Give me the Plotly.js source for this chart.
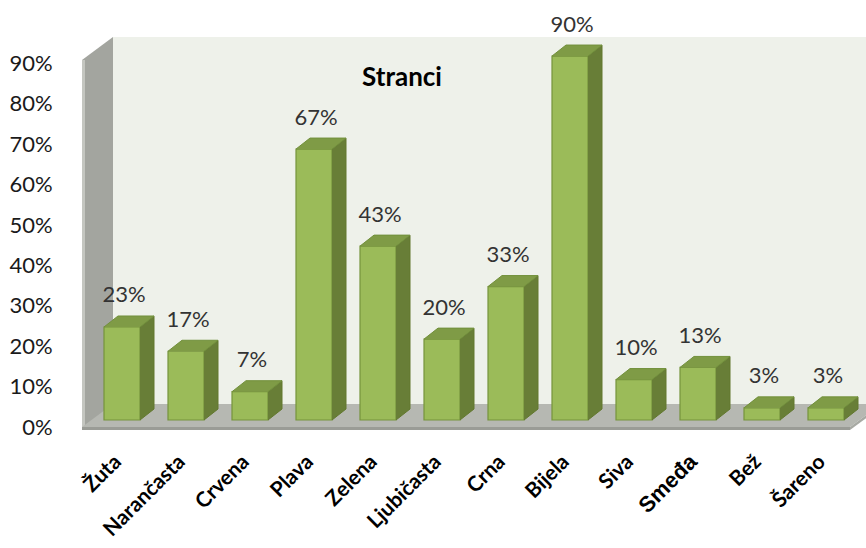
<!DOCTYPE html>
<html>
<head>
<meta charset="utf-8">
<script src="https://cdn.plot.ly/plotly-3.0.1.min.js"></script>
<style>html,body{margin:0;padding:0;background:#fff;}#chart{width:866px;height:548px;}</style>
</head>
<body>
<div id="chart"></div>
<script>
// ---- data ----
const categories = ['Žuta','Narančasta','Crvena','Plava','Zelena','Ljubičasta','Crna','Bijela','Siva','Smeđa','Bež','Šareno'];
const values = [23, 17, 7, 67, 43, 20, 33, 90, 10, 13, 3, 3];
const yTicks = [0, 10, 20, 30, 40, 50, 60, 70, 80, 90];
const yTickText = yTicks.map(t => t + '%');
const chartTitle = 'Stranci';

// ---- layout geometry ----
const W = 866, H = 548;
const M = {l: 82, r: 0, t: 10, b: 116};
const XR = [-0.625, 11.625];
const plotW = W - M.l - M.r, plotH = H - M.t - M.b;
const pxX = plotW / (XR[1] - XR[0]);
const pxY = 4.044;
const zeroFromBottom = 12;
const YR = [-zeroFromBottom / pxY, (plotH - zeroFromBottom) / pxY];
const dxu = p => p / pxX;
const dyu = p => p / pxY;

const barW = 36 / pxX;
const BDX = dxu(14), BDY = dyu(11);      // bar depth
const FY = -dyu(7);                        // front plane floor level
const BX = dxu(31), BY = dyu(23);          // wall depth
const x0 = XR[0];
const xFloorEnd = dxu(850 - M.l) + XR[0];
const wallTop = FY + yTicks[yTicks.length - 1] + dyu(3);
const slab = dyu(3);

const xs = categories.map((c, i) => i);

function poly(pts) {
  return 'M' + pts.map(p => p[0] + ',' + p[1]).join('L') + 'Z';
}

const shapes = [
  {type:'path', layer:'below', xref:'x', yref:'y', line:{width:0}, fillcolor:'#eef1ea',
   path: poly([[x0+BX, FY+BY],[x0+BX, wallTop+BY],[XR[1]+1, wallTop+BY],[XR[1]+1, FY+BY]])},
  {type:'path', layer:'below', xref:'x', yref:'y', line:{width:0}, fillcolor:'#a3a59f',
   path: poly([[x0, FY-slab],[x0, wallTop],[x0+BX, wallTop+BY],[x0+BX, FY+BY]])},
  {type:'path', layer:'below', xref:'x', yref:'y', line:{width:0}, fillcolor:'#c4c6c0',
   path: poly([[x0, FY-slab],[x0, wallTop],[x0+dxu(3), wallTop],[x0+dxu(3), FY-slab]])},
  {type:'path', layer:'below', xref:'x', yref:'y', line:{width:0}, fillcolor:'#b6b8b2',
   path: poly([[x0, FY],[x0+BX, FY+BY],[xFloorEnd+BX, FY+BY],[xFloorEnd, FY]])},
  {type:'path', layer:'below', xref:'x', yref:'y', line:{width:0}, fillcolor:'#9a9c96',
   path: poly([[x0, FY],[xFloorEnd, FY],[xFloorEnd, FY-slab],[x0, FY-slab]])},
  {type:'path', layer:'below', xref:'x', yref:'y', line:{width:0}, fillcolor:'#a8aaa4',
   path: poly([[xFloorEnd, FY],[xFloorEnd+BX, FY+BY],[xFloorEnd+BX, FY+BY-slab],[xFloorEnd, FY-slab]])}
];

// side and top faces built from the values
const sideX = [], sideY = [], topX = [], topY = [];
values.forEach((v, i) => {
  const r = i + barW/2, l = i - barW/2;
  sideX.push(r, r+BDX, r+BDX, r, null);
  sideY.push(0, BDY, v+BDY, v, null);
  topX.push(l, l+BDX, r+BDX, r, null);
  topY.push(v, v+BDY, v+BDY, v, null);
});

const traces = [
  {type:'scatter', x: sideX, y: sideY, mode:'lines', fill:'toself', fillcolor:'#687e37',
   line:{color:'#62782f', width:1}, hoverinfo:'skip', showlegend:false},
  {type:'scatter', x: topX, y: topY, mode:'lines', fill:'toself', fillcolor:'#7f9b46',
   line:{color:'#72903c', width:1}, hoverinfo:'skip', showlegend:false},
  {type:'bar', x: xs, y: values, width: barW,
   marker:{color:'#9bbb59', line:{color:'#76933c', width:1.2}},
   hovertemplate:'%{y}%<extra></extra>', showlegend:false},
  {type:'scatter', x: xs.map(x => x + dxu(2)), y: values.map(v => v + BDY + dyu(19)),
   mode:'text', text: values.map(v => v + '%'), textposition:'middle center',
   textfont:{family:'Lato, sans-serif', size:22, color:'#333333'},
   cliponaxis:false, hoverinfo:'skip', showlegend:false}
];

const tickText = categories.map(c => c === 'Smeđa'
  ? '<span style="font-family:\'Liberation Sans\';font-size:22px">' + c + '</span>'
  : c);

const layout = {
  width: W, height: H,
  margin: M,
  paper_bgcolor:'#ffffff', plot_bgcolor:'rgba(0,0,0,0)',
  title: {text: '<b>' + chartTitle + '</b>', x: 402/W, xanchor:'center', y: 1 - 77/H, yanchor:'middle',
          font:{family:'Lato, sans-serif', size:26, color:'#000000'}},
  xaxis: {range: XR, tickmode:'array', tickvals: xs, ticktext: tickText, tickangle:-45,
          ticklabelshift: -7,
          showgrid:false, zeroline:false, showline:false, ticks:'outside', ticklen:8, tickcolor:'rgba(0,0,0,0)',
          tickfont:{family:'Lato, sans-serif', size:21, color:'#000000', weight:'bold'}, fixedrange:true},
  yaxis: {range: YR, tickmode:'array', tickvals: yTicks.map(t => t + FY), ticktext: yTickText,
          showgrid:false, zeroline:false, showline:false, ticks:'outside', ticklen:24, tickcolor:'rgba(0,0,0,0)',
          tickfont:{family:'Lato, sans-serif', size:22, color:'#1a1a1a'}, fixedrange:true},
  shapes: shapes,
  bargap: 0
};

Plotly.newPlot('chart', traces, layout, {displayModeBar:false, staticPlot:true});
</script>
</body>
</html>
